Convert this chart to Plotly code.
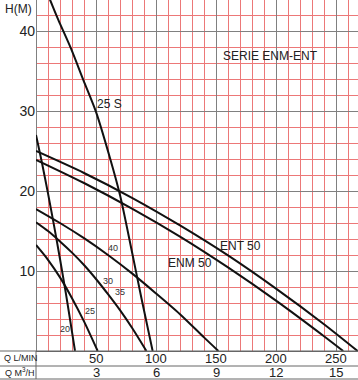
import plotly.graph_objects as go

# ---- data ----
q_25s = [5, 11.7, 18.6, 29.2, 39.4, 50, 61.7, 70, 79.7, 88, 97.2]
h_25s = [46.3, 43.9, 41.4, 37.8, 33.9, 29.9, 24.1, 19.5, 12.6, 6.5, 0]

q_ent50 = [0, 40, 80, 120, 160, 200, 240, 268]
h_ent50 = [25.0, 22.25, 19.15, 15.7, 11.95, 7.8, 3.35, 0]

q_enm50 = [0, 40, 80, 120, 160, 200, 240, 256]
h_enm50 = [23.9, 21.0, 17.8, 14.3, 10.45, 6.3, 1.85, 0]

q_40 = [0, 20, 40, 60, 80, 100, 120, 140, 152]
h_40 = [17.75, 16.0, 14.1, 12.0, 9.7, 7.2, 4.6, 1.7, 0]

q_30 = [0, 10, 20, 30, 40, 50, 60, 70, 80, 92]
h_30 = [16.1, 15.0, 13.7, 12.3, 10.75, 9.0, 7.1, 5.1, 2.9, 0]

q_25 = [0, 10, 20, 30, 40, 51.4]
h_25 = [13.25, 11.4, 9.2, 6.6, 3.7, 0]

q_20 = [0, 5, 10, 15, 20, 25, 30, 32.5]
h_20 = [27.0, 23.5, 19.7, 15.7, 11.5, 7.1, 2.4, 0]

q_lmin_ticks = [50, 100, 150, 200, 250]
q_m3h_labels = ["3", "6", "9", "12", "15"]
h_ticks = [10, 20, 30, 40]

# curve labels: (text, Q, H)
big_labels = [("25 S", 61.2, 30.9), ("SERIE ENM-ENT", 195, 36.9),
              ("ENT 50", 170.8, 13.1), ("ENM 50", 128.3, 11.0)]
small_labels = [("40", 64.5, 12.9), ("30", 59.8, 8.8), ("35", 69.6, 7.4),
                ("25", 44.7, 5.05), ("20", 23.9, 2.8)]

FONT = "Liberation Sans, Arial, sans-serif"
W, H = 358, 380
L, B = 36, 29
PW, PH = W - L, H - B  # 322 x 351

fig = go.Figure()
for qs, hs in [(q_25s, h_25s), (q_ent50, h_ent50), (q_enm50, h_enm50),
               (q_40, h_40), (q_30, h_30), (q_25, h_25), (q_20, h_20)]:
    fig.add_trace(go.Scatter(x=qs, y=hs, mode="lines",
                             line=dict(color="#111111", width=2, shape="spline", smoothing=0.8),
                             hoverinfo="skip", showlegend=False))

ann = []
for t, x, y in big_labels:
    ann.append(dict(x=x, y=y, xref="x", yref="y", text=t, showarrow=False,
                    xanchor="center", yanchor="middle",
                    font=dict(family=FONT, size=12, color="#222")))
for t, x, y in small_labels:
    ann.append(dict(x=x, y=y, xref="x", yref="y", text=t, showarrow=False,
                    xanchor="center", yanchor="middle",
                    font=dict(family=FONT, size=9, color="#333")))

def py2paper(py):
    return (PH - py) / PH

def px2paper(px):
    return (px - L) / PW

ann.append(dict(x=px2paper(18), y=py2paper(9), xref="paper", yref="paper", text="H(M)",
                xanchor="center", yanchor="middle",
                showarrow=False, font=dict(family=FONT, size=12, color="#222")))
for q, m in zip(q_lmin_ticks, q_m3h_labels):
    ann.append(dict(x=q, y=py2paper(358), xref="x", yref="paper", text=str(q), showarrow=False,
                    xanchor="center", yanchor="middle",
                    font=dict(family=FONT, size=13, color="#222")))
    ann.append(dict(x=q, y=py2paper(372.5), xref="x", yref="paper", text=m, showarrow=False,
                    xanchor="center", yanchor="middle",
                    font=dict(family=FONT, size=13, color="#222")))
ann.append(dict(x=px2paper(2), y=py2paper(358), xref="paper", yref="paper", text="Q L/MIN",
                xanchor="left", yanchor="middle", showarrow=False,
                font=dict(family=FONT, size=9, color="#222")))
ann.append(dict(x=px2paper(3), y=py2paper(372), xref="paper", yref="paper", text="Q M<sup>3</sup>/H",
                xanchor="left", yanchor="middle", showarrow=False,
                font=dict(family=FONT, size=9, color="#222")))

shapes = []
for py in [351, 366, 379]:
    shapes.append(dict(type="line", xref="paper", yref="paper", x0=px2paper(0), x1=1,
                       y0=py2paper(py), y1=py2paper(py), line=dict(color="#666", width=1)))
shapes.append(dict(type="line", xref="paper", yref="paper", x0=0, x1=0,
                   y0=py2paper(351), y1=py2paper(379), line=dict(color="#666", width=1)))

RED = "#EC7878"
GRAY = "#808080"
fig.update_layout(
    width=W, height=H, margin=dict(l=L, r=0, t=0, b=B),
    paper_bgcolor="white", plot_bgcolor="white",
    annotations=ann, shapes=shapes,
    xaxis=dict(range=[0, PW / 1.2], tick0=0, dtick=50, showticklabels=False, ticks="",
               showgrid=True, gridcolor=GRAY, gridwidth=1,
               zeroline=True, zerolinecolor=GRAY, zerolinewidth=1,
               minor=dict(tick0=0, dtick=10, showgrid=True, gridcolor=RED, gridwidth=1),
               fixedrange=True),
    yaxis=dict(range=[0, PH / 8.0], tickvals=h_ticks, ticks="",
               tickfont=dict(family=FONT, size=14, color="#222"),
               showgrid=True, gridcolor=GRAY, gridwidth=1,
               zeroline=True, zerolinecolor="#666", zerolinewidth=1,
               minor=dict(tick0=0, dtick=2, showgrid=True, gridcolor=RED, gridwidth=1),
               fixedrange=True),
)
fig.write_html("out.html")
